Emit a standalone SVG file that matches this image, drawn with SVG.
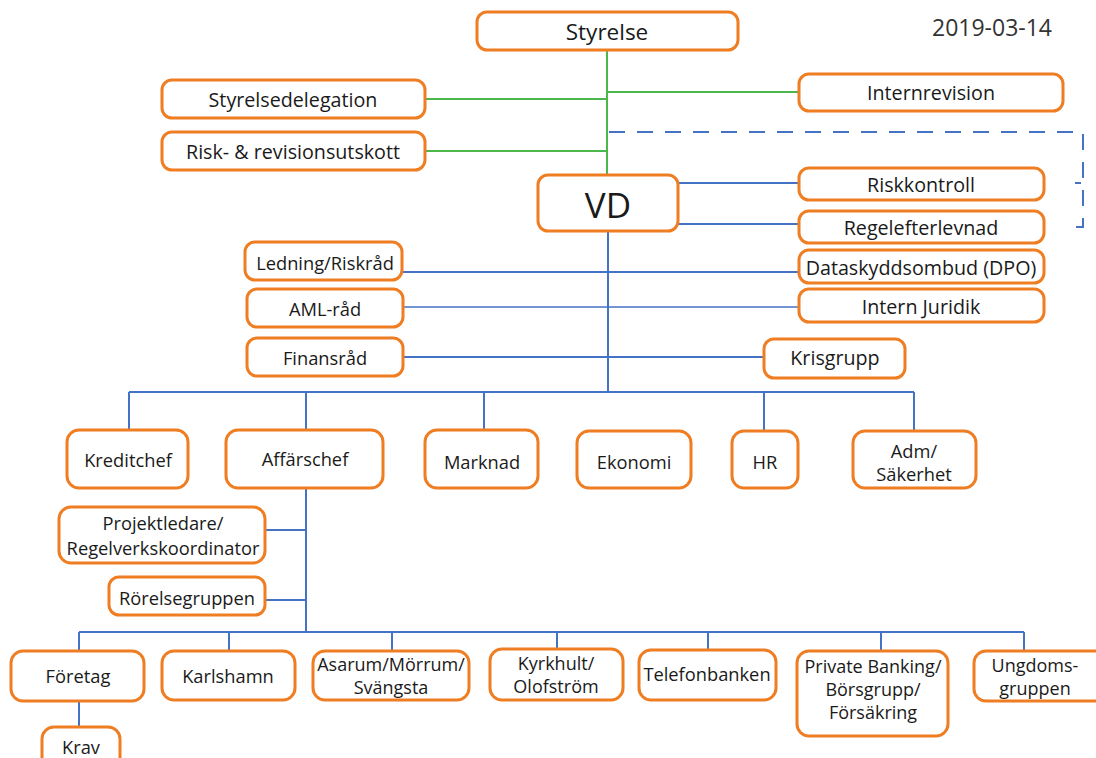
<svg xmlns="http://www.w3.org/2000/svg" width="1096" height="758" viewBox="0 0 1096 758">
<style>
.b{fill:#fff;stroke:#EF7D22;stroke-width:3}
.t{font-family:"Open Sans","Noto Sans",sans-serif;font-size:18.3px;fill:#1a1a1a;text-anchor:middle;dominant-baseline:central}
.k{font-size:19.7px}
.g{stroke:#4CB84C;stroke-width:2;fill:none}
.l{stroke:#4472C4;stroke-width:2;fill:none}
.d{stroke:#4472C4;stroke-width:2;fill:none;stroke-dasharray:16,12}
</style>
<rect width="1096" height="758" fill="#fff"/>
<g id="connectors">
<path class="g" d="M607,50V175M425,99H607M425,151H607M607,92H799"/>
<path class="d" d="M609,132H1083V227H1075"/>
<path class="l" d="M1075,183H1081"/>
<path class="l" d="M678,183H799M678,224H799M608,231V392M402,272H799M403,357H764"/>
<path class="l" style="stroke-width:1.3" d="M403,307H799"/>
<path class="l" d="M129,392H914M129,392V430M306,392V430M484,392V430M764,392V430M914,392V430"/>
<path class="l" d="M306,488V632M265,530H306M265,600H306"/>
<path class="l" d="M79,632H1024M79,632V651M229,632V651M392,632V651M557,632V649M708,632V650M881,632V651M1024,632V651M79,701V727"/>
</g>
<text class="t" x="992" y="27" style="font-size:23px;fill:#333">2019-03-14</text>
<g id="styrelse"><rect class="b" x="477" y="12" width="261" height="38" rx="10"/><text class="t" x="607" y="31" style="font-size:22.5px">Styrelse</text></g>
<g id="styrelsedelegation"><rect class="b" x="162" y="80" width="263" height="38" rx="10"/><text class="t k" x="293" y="99">Styrelsedelegation</text></g>
<g id="risk-revisionsutskott"><rect class="b" x="162" y="132" width="263" height="38" rx="10"/><text class="t k" x="293" y="151">Risk- &amp; revisionsutskott</text></g>
<g id="internrevision"><rect class="b" x="799" y="74" width="264" height="37" rx="10"/><text class="t k" x="931" y="92">Internrevision</text></g>
<g id="vd"><rect class="b" x="538" y="175" width="140" height="56" rx="10"/><text class="t" x="608" y="204" style="font-size:35px">VD</text></g>
<g id="riskkontroll"><rect class="b" x="799" y="168" width="245" height="32" rx="10"/><text class="t k" x="921" y="184">Riskkontroll</text></g>
<g id="regelefterlevnad"><rect class="b" x="799" y="211" width="245" height="32" rx="10"/><text class="t k" x="921" y="227">Regelefterlevnad</text></g>
<g id="dataskyddsombud"><rect class="b" x="799" y="250" width="245" height="33" rx="10"/><text class="t k" x="921" y="267">Dataskyddsombud (DPO)</text></g>
<g id="intern-juridik"><rect class="b" x="799" y="289" width="245" height="33" rx="10"/><text class="t k" x="921" y="306">Intern Juridik</text></g>
<g id="krisgrupp"><rect class="b" x="764" y="339" width="141" height="39" rx="10"/><text class="t k" x="835" y="357">Krisgrupp</text></g>
<g id="ledning-riskrad"><rect class="b" x="245" y="242" width="157" height="38" rx="10"/><text class="t" x="325" y="262">Ledning/Riskråd</text></g>
<g id="aml-rad"><rect class="b" x="247" y="289" width="156" height="38" rx="10"/><text class="t" x="325" y="308">AML-råd</text></g>
<g id="finansrad"><rect class="b" x="247" y="338" width="156" height="38" rx="10"/><text class="t" x="325" y="357">Finansråd</text></g>
<g id="kreditchef"><rect class="b" x="67" y="430" width="121" height="58" rx="12"/><text class="t" x="128" y="459">Kreditchef</text></g>
<g id="affarschef"><rect class="b" x="226" y="430" width="157" height="58" rx="12"/><text class="t" x="305" y="458">Affärschef</text></g>
<g id="marknad"><rect class="b" x="425" y="430" width="113" height="58" rx="12"/><text class="t" x="482" y="461">Marknad</text></g>
<g id="ekonomi"><rect class="b" x="577" y="431" width="114" height="57" rx="12"/><text class="t" x="634" y="461">Ekonomi</text></g>
<g id="hr"><rect class="b" x="732" y="431" width="66" height="57" rx="12"/><text class="t" x="765" y="461">HR</text></g>
<g id="adm-sakerhet"><rect class="b" x="853" y="431" width="123" height="57" rx="12"/><text class="t" x="914" y="450">Adm/<tspan x="914" dy="23">Säkerhet</tspan></text></g>
<g id="projektledare"><rect class="b" x="59" y="507" width="206" height="56" rx="12"/><text class="t" x="163" y="522">Projektledare/<tspan x="163" dy="25">Regelverkskoordinator</tspan></text></g>
<g id="rorelsegruppen"><rect class="b" x="109" y="577" width="156" height="38" rx="10"/><text class="t" x="187" y="597">Rörelsegruppen</text></g>
<g id="foretag"><rect class="b" x="11" y="651" width="133" height="50" rx="12"/><text class="t" x="78" y="675">Företag</text></g>
<g id="karlshamn"><rect class="b" x="162" y="651" width="133" height="49" rx="12"/><text class="t" x="228" y="675">Karlshamn</text></g>
<g id="asarum"><rect class="b" x="313" y="651" width="156" height="49" rx="12"/><text class="t" x="391" y="664" style="font-size:18px">Asarum/Mörrum/<tspan x="391" dy="23">Svängsta</tspan></text></g>
<g id="kyrkhult"><rect class="b" x="490" y="649" width="133" height="51" rx="12"/><text class="t" x="556" y="663" style="font-size:18px">Kyrkhult/<tspan x="556" dy="23">Olofström</tspan></text></g>
<g id="telefonbanken"><rect class="b" x="639" y="650" width="137" height="50" rx="12"/><text class="t" x="707" y="673">Telefonbanken</text></g>
<g id="private-banking"><rect class="b" x="797" y="651" width="151" height="85" rx="12"/><text class="t" x="873" y="666" style="font-size:18px">Private Banking/<tspan x="873" dy="23">Börsgrupp/</tspan><tspan x="873" dy="23">Försäkring</tspan></text></g>
<g id="ungdomsgruppen"><rect class="b" x="974" y="651" width="140" height="50" rx="12"/><text class="t" x="1035" y="665" style="font-size:18px">Ungdoms-<tspan x="1035" dy="23">gruppen</tspan></text></g>
<g id="krav"><rect class="b" x="42" y="727" width="78" height="45" rx="12"/><text class="t" x="81" y="746">Krav</text></g>
</svg>
